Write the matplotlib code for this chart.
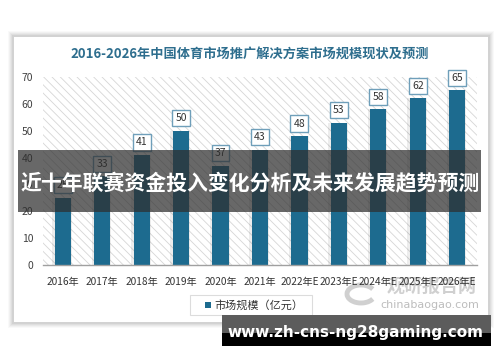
import matplotlib
matplotlib.use("Agg")
import matplotlib.pyplot as plt
from matplotlib.patches import Rectangle, Arc

plt.rcParams['font.family'] = ['Noto Sans CJK SC', 'DejaVu Sans']
plt.rcParams['hatch.linewidth'] = 0.6

categories = ["2016年", "2017年", "2018年", "2019年", "2020年", "2021年",
              "2022年E", "2023年E", "2024年E", "2025年E", "2026年E"]
values = [25, 33, 41, 50, 37, 43, 48, 53, 58, 62, 65]
yticks = [0, 10, 20, 30, 40, 50, 60, 70]
title = "2016-2026年中国体育市场推广解决方案市场规模现状及预测"
legend_label = "市场规模（亿元）"
overlay_text = "近十年联赛资金投入变化分析及未来发展趋势预测"
url_text = "www.zh-cns-ng28gaming.com"

W, H = 500, 362
fig = plt.figure(figsize=(W / 100, H / 100), dpi=100)
fig.patch.set_facecolor("white")

def fx(px):
    return px / W

def fy(py):
    return 1 - py / H

# card shadow
for i, a in enumerate([0.025, 0.03, 0.035, 0.04, 0.05]):
    d = 6 - i
    fig.patches.append(Rectangle((fx(14 - d), fy(322 + d)), (474 + 2 * d) / W, (285 + 2 * d) / H,
                                 transform=fig.transFigure, facecolor="black", alpha=a,
                                 edgecolor="none", zorder=-3))
fig.patches.append(Rectangle((fx(14), fy(322)), 474 / W, 285 / H, transform=fig.transFigure,
                             facecolor="white", edgecolor="none", zorder=-2))

# watermark (behind the axes text)
fig.patches.append(Arc((fx(361), fy(294)), 28 / W, 18 / H, theta1=30, theta2=330,
                       transform=fig.transFigure, color="#d0d0d0", linewidth=3.5, zorder=-1))
fig.text(fx(432), fy(286), "观研报告网", ha="center", va="center", fontsize=13,
         fontweight="bold", color="#d0d0d0", zorder=-1)
fig.text(fx(430), fy(305), "chinabaogao.com", ha="center", va="center", fontsize=8,
         color="#bdbdbd", zorder=-1, family="DejaVu Sans")

ax = fig.add_axes([fx(43), fy(265), 434 / W, 188 / H])
ax.set_zorder(1)
ax.set_facecolor("none")
ax.add_patch(Rectangle((0, 0), 1, 1, transform=ax.transAxes, facecolor="white",
                       hatch="\\\\\\\\", edgecolor="#d6d6d6", linewidth=0, zorder=0))

x = list(range(len(categories)))
ax.bar([i - 0.02 for i in x], values, width=0.5, color="#000000", alpha=0.07, zorder=1)
ax.bar(x, values, width=0.41, color="#1d6b8f", zorder=2, label=legend_label)

for i, v in zip(x, values):
    ax.annotate(str(v), (i, v), xytext=(0, 9), textcoords="offset points",
                ha="center", va="center", fontsize=7.5, color="#333333", zorder=3,
                bbox=dict(boxstyle="square,pad=0.3", facecolor="white",
                          edgecolor="#6f9fba", linewidth=1.0))

ax.set_xlim(-0.5, len(categories) - 0.5)
ax.set_ylim(0, 70)
ax.set_yticks(yticks)
ax.set_yticklabels([str(t) for t in yticks], fontsize=7.5, color="#404040")
ax.set_xticks(x)
ax.set_xticklabels(categories, fontsize=7.3, color="#333333")
ax.tick_params(axis="both", length=0)
ax.tick_params(axis="x", pad=9)
ax.tick_params(axis="y", pad=7)
for s in ["top", "right", "left"]:
    ax.spines[s].set_visible(False)
ax.spines["bottom"].set_color("#a0a0a0")
ax.spines["bottom"].set_linewidth(1.0)

fig.text(0.5, fy(54), title, ha="center", va="center", fontsize=9.5,
         fontweight="bold", color="#2e6e8e", zorder=3)

# legend box
fig.patches.append(Rectangle((fx(190), fy(315)), 122 / W, 20 / H, transform=fig.transFigure,
                             facecolor="white", edgecolor="#dcdcdc", linewidth=0.8, zorder=3))
fig.patches.append(Rectangle((fx(205), fy(308)), 6 / W, 6 / H, transform=fig.transFigure,
                             facecolor="#1d6b8f", edgecolor="none", zorder=4))
fig.text(fx(214), fy(305), legend_label, ha="left", va="center", fontsize=8,
         color="#333333", zorder=4)

# overlay band
fig.patches.append(Rectangle((fx(18), fy(212)), 463 / W, 62 / H, transform=fig.transFigure,
                             facecolor="#2e2e2e", alpha=0.72, edgecolor="none", zorder=5))
fig.text(0.5, fy(184), overlay_text, ha="center", va="center", fontsize=15,
         fontweight="bold", color="white", zorder=6)

# bottom url band
fig.patches.append(Rectangle((fx(222), fy(333)), 269 / W, 18 / H, transform=fig.transFigure,
                             facecolor="#5c5c5c", edgecolor="none", zorder=5))
fig.patches.append(Rectangle((fx(222), fy(346)), 269 / W, 13 / H, transform=fig.transFigure,
                             facecolor="black", edgecolor="none", zorder=5))
fig.text(fx(355), fy(332), url_text, ha="center", va="center", fontsize=11,
         fontweight="bold", color="white", zorder=6, family="DejaVu Sans")

fig.savefig("out.png", dpi=100)
